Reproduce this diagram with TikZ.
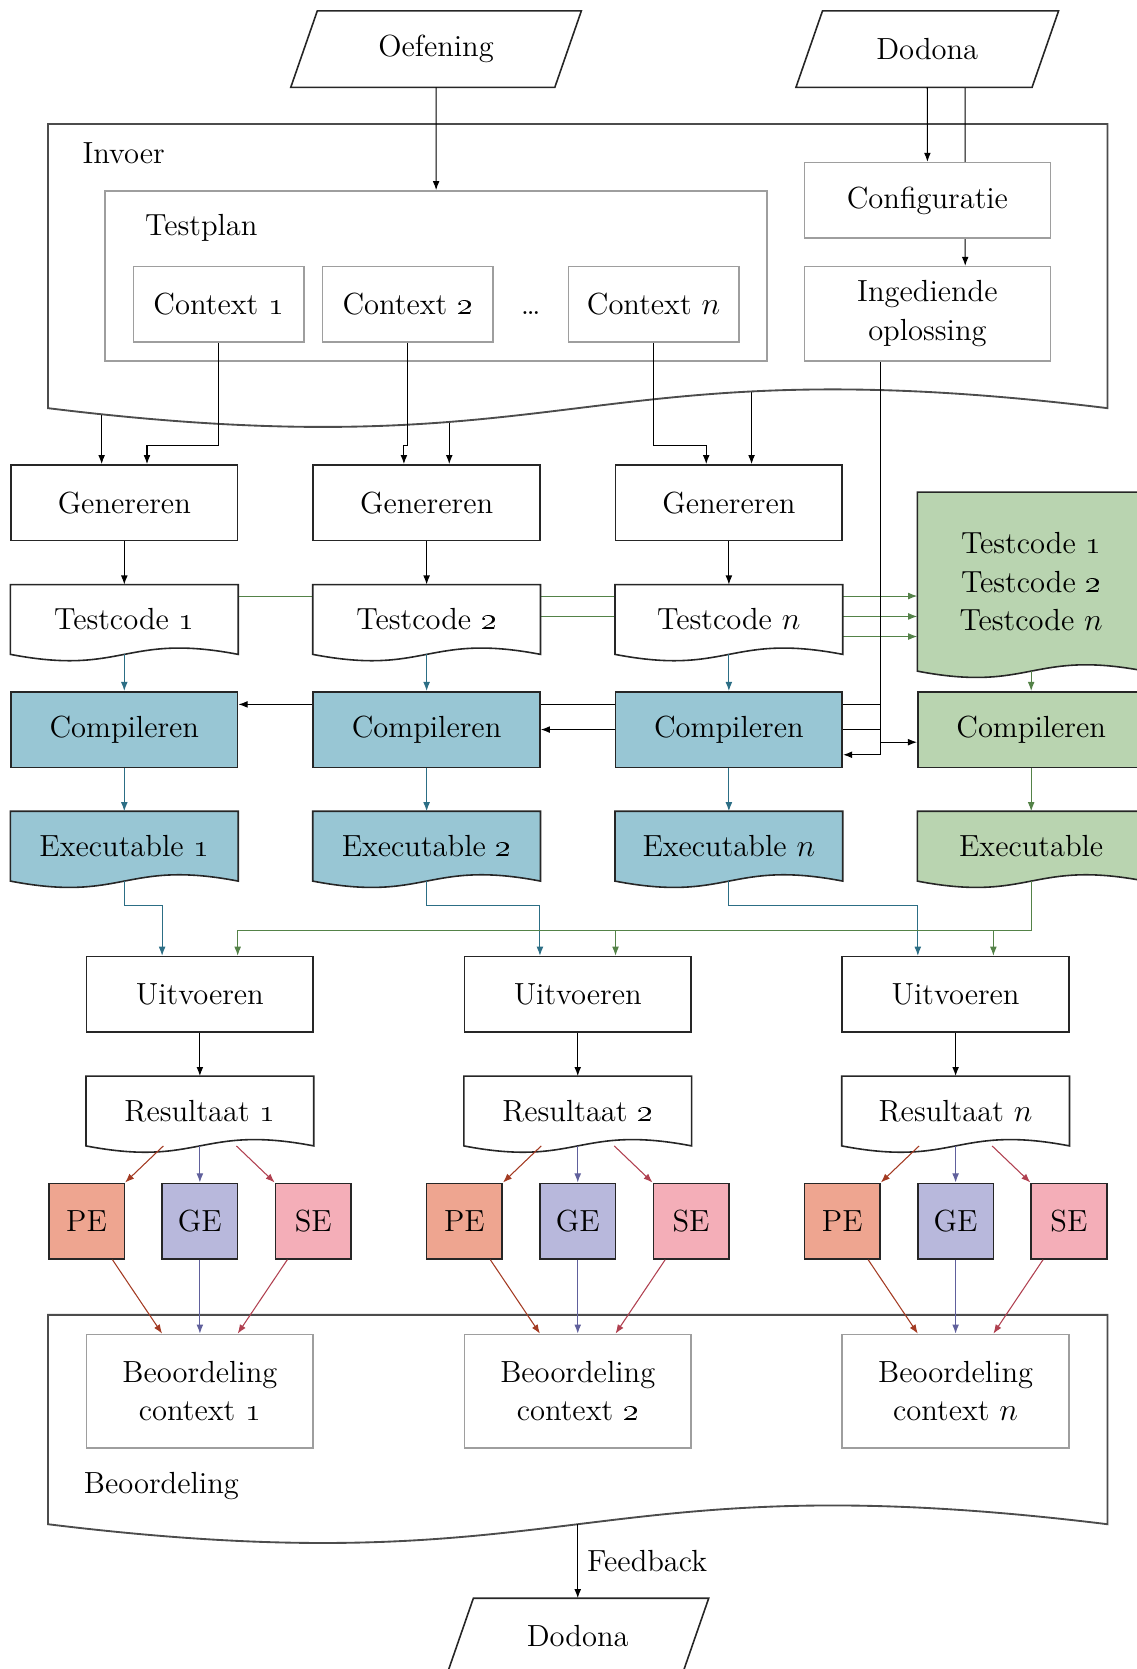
\documentclass[tikz,border=0pt]{standalone}
\usepackage{amsmath}
\usepackage{xcolor}
\usepackage{tikz}
\usetikzlibrary{calc,arrows.meta}
\definecolor{compblue}{RGB}{152,198,212}
\definecolor{compteal}{RGB}{44,110,133}
\definecolor{refgreen}{RGB}{185,212,176}
\definecolor{gdark}{RGB}{84,130,72}
\definecolor{pefill}{RGB}{238,165,144}
\definecolor{pedark}{RGB}{163,58,34}
\definecolor{gefill}{RGB}{184,184,220}
\definecolor{gedark}{RGB}{96,96,156}
\definecolor{sefill}{RGB}{244,174,184}
\definecolor{sedark}{RGB}{176,64,80}
\pgfdeclarelayer{lowest}
\pgfdeclarelayer{cont}
\pgfdeclarelayer{back}
\pgfdeclarelayer{docs}
\pgfsetlayers{lowest,cont,back,docs,main}
% document outline: node, wave height, style
\newcommand{\docshape}[3]{%
  \draw[#3] (#1.north west) -- (#1.north east) -- (#1.south east)
    .. controls ($(#1.south)+(0,#2)$) and ($(#1.south)+(0,-#2)$) .. (#1.south west) -- cycle;}
% parallelogram outline round a node
\newcommand{\parashape}[1]{%
  \draw[paraline] ([xshift=-0.176cm]#1.south west) -- ([xshift=-0.176cm]#1.south east)
    -- ([xshift=0.176cm]#1.north east) -- ([xshift=0.176cm]#1.north west) -- cycle;}

\begin{document}
\begin{tikzpicture}[font=\fontsize{11.5}{14.6}\selectfont,
  box/.style={draw=black!85, fill=white, line width=0.6pt, minimum width=3cm, minimum height=1cm, inner sep=2pt},
  greybox/.style={draw=black!38, fill=white, line width=0.6pt, minimum height=1cm, inner sep=2pt},
  doc/.style={minimum width=3cm, minimum height=0.91cm, inner sep=2pt},
  docline/.style={draw=black!85, line width=0.6pt},
  contline/.style={draw=black!70, fill=white, line width=0.7pt},
  para/.style={minimum height=1cm, inner sep=2pt},
  paraline/.style={draw=black!85, line width=0.6pt},
  sq/.style={draw=black!85, line width=0.6pt, minimum size=1cm, inner sep=0pt},
  lbl/.style={anchor=base west, inner sep=0pt},
  arr/.style={-{Latex[length=1.2mm,width=0.9mm]}, line width=0.4pt},
  tarr/.style={arr, draw=compteal},
  garr/.style={arr, draw=gdark},
  pearr/.style={arr, draw=pedark},
  gearr/.style={arr, draw=gedark},
  searr/.style={arr, draw=sedark}]
\useasboundingbox (0,0) rectangle (15.042,-22.085);

% Bronnen
\node[para, minimum width=3.48cm] (oef) at (5.77,-0.65) {Oefening};
\node[para, minimum width=3.11cm] (dod) at (12.27,-0.65) {Dodona};

% Invoer
\node[minimum width=14.006cm, minimum height=3.746cm] (invoer) at (7.645,-3.521) {};
\node[lbl] (invoerlbl) at (1.085,-2.161) {Invoer};
\node[greybox, minimum width=8.759cm, minimum height=2.248cm] (testplan) at (5.771,-3.651) {};
\node[lbl] (testplanlbl) at (1.914,-3.122) {Testplan};
\node[greybox, minimum width=2.254cm] (ctx1) at (2.893,-4.028) {Context \oldstylenums{1}};
\node[greybox, minimum width=2.254cm] (ctx2) at (5.394,-4.028) {Context \oldstylenums{2}};
\node[greybox, minimum width=2.254cm] (ctxn) at (8.648,-4.028) {Context $n$};
\node[anchor=base] (dots) at ($(ctx2.base)!0.5!(ctxn.base)$) {\dots};
\node[greybox, minimum width=3.254cm] (conf) at (12.272,-2.652) {Configuratie};
\node[greybox, minimum width=3.254cm, minimum height=1.246cm, align=center] (sub) at (12.272,-4.152) {Ingediende\\oplossing};

% Genereren en compileren
\node[box] (gen1) at (1.645,-6.652) {Genereren};
\node[box] (gen2) at (5.645,-6.652) {Genereren};
\node[box] (gen3) at (9.645,-6.652) {Genereren};
\node[doc] (tc1) at (1.645,-8.197) {Testcode \oldstylenums{1}};
\node[doc] (tc2) at (5.645,-8.197) {Testcode \oldstylenums{2}};
\node[doc] (tc3) at (9.645,-8.197) {Testcode $n$};
\node[doc, minimum height=2.355cm, align=center] (tcall) at (13.645,-7.696) {Testcode \oldstylenums{1}\\Testcode \oldstylenums{2}\\Testcode $n$};
\node[box, fill=compblue] (comp1) at (1.645,-9.654) {Compileren};
\node[box, fill=compblue] (comp2) at (5.645,-9.654) {Compileren};
\node[box, fill=compblue] (comp3) at (9.645,-9.654) {Compileren};
\node[box, fill=refgreen] (comp4) at (13.645,-9.654) {Compileren};
\node[doc] (exe1) at (1.645,-11.197) {Executable \oldstylenums{1}};
\node[doc] (exe2) at (5.645,-11.197) {Executable \oldstylenums{2}};
\node[doc] (exe3) at (9.645,-11.197) {Executable $n$};
\node[doc] (exe4) at (13.645,-11.197) {Executable};

% Uitvoeren
\node[box] (uit1) at (2.645,-13.158) {Uitvoeren};
\node[box] (uit2) at (7.645,-13.158) {Uitvoeren};
\node[box] (uit3) at (12.645,-13.158) {Uitvoeren};
\node[doc] (res1) at (2.645,-14.701) {Resultaat \oldstylenums{1}};
\node[doc] (res2) at (7.645,-14.701) {Resultaat \oldstylenums{2}};
\node[doc] (res3) at (12.645,-14.701) {Resultaat $n$};
\node[sq, fill=pefill] (pe1) at (1.145,-16.158) {PE};
\node[sq, fill=gefill] (ge1) at (2.645,-16.158) {GE};
\node[sq, fill=sefill] (se1) at (4.145,-16.158) {SE};
\node[sq, fill=pefill] (pe2) at (6.145,-16.158) {PE};
\node[sq, fill=gefill] (ge2) at (7.645,-16.158) {GE};
\node[sq, fill=sefill] (se2) at (9.145,-16.158) {SE};
\node[sq, fill=pefill] (pe3) at (11.145,-16.158) {PE};
\node[sq, fill=gefill] (ge3) at (12.645,-16.158) {GE};
\node[sq, fill=sefill] (se3) at (14.145,-16.158) {SE};

% Beoordeling
\node[minimum width=14.006cm, minimum height=2.756cm] (beoordeling) at (7.645,-18.784) {};
\node[greybox, minimum width=3cm, minimum height=1.5cm, align=center] (beo1) at (2.645,-18.408) {Beoordeling\\context \oldstylenums{1}};
\node[greybox, minimum width=3cm, minimum height=1.5cm, align=center] (beo2) at (7.645,-18.408) {Beoordeling\\context \oldstylenums{2}};
\node[greybox, minimum width=3cm, minimum height=1.5cm, align=center] (beo3) at (12.645,-18.408) {Beoordeling\\context $n$};
\node[lbl] (beolbl) at (1.103,-19.76) {Beoordeling};
\node[para, minimum width=3.1cm] (dodfb) at (7.645,-21.655) {Dodona};

% Vormen
\parashape{oef}
\parashape{dod}
\parashape{dodfb}
\begin{pgfonlayer}{cont}
\docshape{invoer}{0.86}{contline}
\docshape{beoordeling}{0.86}{contline}
\end{pgfonlayer}
\begin{pgfonlayer}{docs}
\docshape{tc1}{0.29}{docline, fill=white}
\docshape{tc2}{0.29}{docline, fill=white}
\docshape{tc3}{0.29}{docline, fill=white}
\docshape{tcall}{0.29}{docline, fill=refgreen}
\docshape{exe1}{0.29}{docline, fill=compblue}
\docshape{exe2}{0.29}{docline, fill=compblue}
\docshape{exe3}{0.29}{docline, fill=compblue}
\docshape{exe4}{0.29}{docline, fill=refgreen}
\docshape{res1}{0.29}{docline, fill=white}
\docshape{res2}{0.29}{docline, fill=white}
\docshape{res3}{0.29}{docline, fill=white}
\end{pgfonlayer}

% Invoer
\draw[arr] (oef.south) -- (testplan.north);
\draw[arr] (dod.south) -- (conf.north);
\begin{pgfonlayer}{back}
\draw[arr] ($(dod.south)+(0.5,0)$) -- ($(sub.north)+(0.5,0)$);
\end{pgfonlayer}
\begin{pgfonlayer}{lowest}
\draw[arr] ($(gen1.north |- invoer.center)+(-0.3,0)$) -- ($(gen1.north)+(-0.3,0)$);
\draw[arr] ($(gen2.north |- invoer.center)+(0.3,0)$) -- ($(gen2.north)+(0.3,0)$);
\draw[arr] ($(gen3.north |- invoer.center)+(0.3,0)$) -- ($(gen3.north)+(0.3,0)$);
\end{pgfonlayer}
\draw[arr] (ctx1) |- ($(gen1.north)+(0.3,0.25)$) -- ($(gen1.north)+(0.3,0)$);
\draw[arr] (ctx2) |- ($(gen2.north)+(-0.3,0.25)$) -- ($(gen2.north)+(-0.3,0)$);
\draw[arr] (ctxn) |- ($(gen3.north)+(-0.3,0.25)$) -- ($(gen3.north)+(-0.3,0)$);

% Testcode
\draw[arr] (gen1) -- (tc1);
\draw[arr] (gen2) -- (tc2);
\draw[arr] (gen3) -- (tc3);
\begin{pgfonlayer}{back}
\draw[garr] ($(tc1.east)+(0,0.31)$) -- ($(tcall.west |- tc1.east)+(0,0.31)$);
\draw[garr] ($(tc2.east)+(0,0.04)$) -- ($(tcall.west |- tc2.east)+(0,0.04)$);
\draw[garr] ($(tc3.east)+(0,-0.226)$) -- ($(tcall.west |- tc3.east)+(0,-0.226)$);
% Ingediende oplossing
\coordinate (subout) at ($(comp3.east |- sub.south)+(0.5,0)$);
\draw[arr] (subout) |- ($(comp1.east)+(0,0.333)$);
\draw[arr] (subout) |- (comp2.east);
\draw[arr] (subout) |- ($(comp3.east)+(0,-0.333)$);
\draw[arr] (subout) |- ($(comp4.west)+(0,-0.167)$);
\end{pgfonlayer}

% Compileren
\draw[tarr] (tc1) -- (comp1);
\draw[tarr] (tc2) -- (comp2);
\draw[tarr] (tc3) -- (comp3);
\draw[garr] (tcall) -- (comp4);
\draw[tarr] (comp1) -- (exe1);
\draw[tarr] (comp2) -- (exe2);
\draw[tarr] (comp3) -- (exe3);
\draw[garr] (comp4) -- (exe4);

% Uitvoeren
\draw[tarr] (exe1) |- ($(uit1.north)+(-0.5,0.67)$) -- ($(uit1.north)+(-0.5,0)$);
\draw[tarr] (exe2) |- ($(uit2.north)+(-0.5,0.67)$) -- ($(uit2.north)+(-0.5,0)$);
\draw[tarr] (exe3) |- ($(uit3.north)+(-0.5,0.67)$) -- ($(uit3.north)+(-0.5,0)$);
\draw[garr] (exe4) |- ($(uit1.north)+(0.5,0.34)$) -- ($(uit1.north)+(0.5,0)$);
\draw[garr] (exe4) |- ($(uit2.north)+(0.5,0.34)$) -- ($(uit2.north)+(0.5,0)$);
\draw[garr] (exe4) |- ($(uit3.north)+(0.5,0.34)$) -- ($(uit3.north)+(0.5,0)$);
\draw[arr] (uit1) -- (res1);
\draw[arr] (uit2) -- (res2);
\draw[arr] (uit3) -- (res3);

% Resultaten
\draw[pearr] (res1) -- (pe1.north east);
\draw[gearr] (res1) -- (ge1);
\draw[searr] (res1) -- (se1.north west);
\draw[pearr] (res2) -- (pe2.north east);
\draw[gearr] (res2) -- (ge2);
\draw[searr] (res2) -- (se2.north west);
\draw[pearr] (res3) -- (pe3.north east);
\draw[gearr] (res3) -- (ge3);
\draw[searr] (res3) -- (se3.north west);
\draw[pearr] (pe1) -- ($(beo1.north)+(-0.5,0)$);
\draw[gearr] (ge1) -- (beo1);
\draw[searr] (se1) -- ($(beo1.north)+(0.5,0)$);
\draw[pearr] (pe2) -- ($(beo2.north)+(-0.5,0)$);
\draw[gearr] (ge2) -- (beo2);
\draw[searr] (se2) -- ($(beo2.north)+(0.5,0)$);
\draw[pearr] (pe3) -- ($(beo3.north)+(-0.5,0)$);
\draw[gearr] (ge3) -- (beo3);
\draw[searr] (se3) -- ($(beo3.north)+(0.5,0)$);

% Feedback
\draw[arr] (beoordeling.south) -- (dodfb.north) node[midway, right] (fblbl) {Feedback};
\end{tikzpicture}
\end{document}
